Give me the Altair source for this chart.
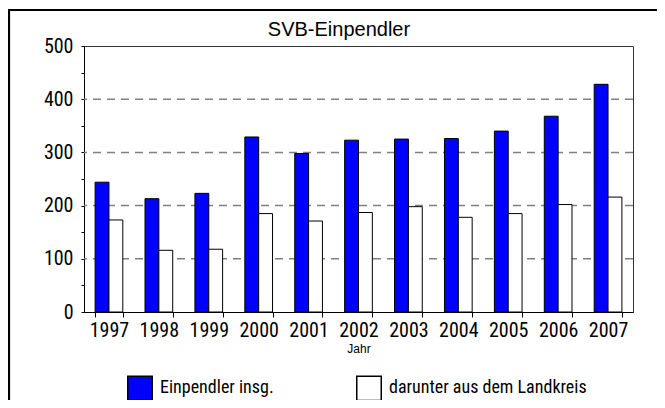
import altair as alt
import pandas as pd

title_text = ["SVB-Einpendler"]
years = ["1997", "1998", "1999", "2000", "2001", "2002", "2003", "2004", "2005", "2006", "2007"]
insg = [244, 213, 223, 329, 298, 323, 325, 326, 340, 368, 428]
landkreis = [173, 116, 118, 185, 171, 187, 198, 178, 185, 202, 216]
series_names = ["Einpendler insg.", "darunter aus dem Landkreis"]
grid_values = [100, 200, 300, 400]
y_ticks = [0, 50, 100, 150, 200, 250, 300, 350, 400, 450, 500]

rows = []
for y, a, b in zip(years, insg, landkreis):
    rows.append({"Jahr": y, "series": series_names[0], "value": a})
    rows.append({"Jahr": y, "series": series_names[1], "value": b})
df = pd.DataFrame(rows)

NARROW = "Roboto Condensed"
SANS = "Liberation Sans"

yscale = alt.Scale(domain=[0, 500], nice=False)
yaxis = alt.Axis(title=None, values=y_ticks,
                 labelExpr="datum.value % 100 == 0 ? datum.label : ''",
                 labelFont=NARROW, labelFontSize=20, labelColor="black",
                 labelPadding=8, tickSize=3, tickColor="black",
                 domainColor="black", grid=False, labelOverlap=False)

grid = alt.Chart(pd.DataFrame({"value": grid_values})).mark_rule(
    color="#808080", strokeWidth=1.5, strokeDash=[8, 6]
).encode(y=alt.Y("value:Q", scale=yscale, axis=yaxis))

bars = alt.Chart(df).mark_bar(stroke="black", strokeWidth=1, opacity=1).encode(
    x=alt.X("Jahr:N", sort=years,
            scale=alt.Scale(paddingInner=0.445, paddingOuter=0.2225),
            axis=alt.Axis(title="Jahr", labelAngle=0, labelFont=NARROW, labelFontSize=20,
                          labelColor="black", labelPadding=3, tickBand="extent",
                          tickSize=5, tickColor="black", domainColor="black",
                          titleFont=SANS, titleFontSize=12, titleFontWeight="normal",
                          titleColor="black", titlePadding=3)),
    xOffset=alt.XOffset("series:N", sort=series_names,
                        scale=alt.Scale(paddingInner=0, paddingOuter=0)),
    y=alt.Y("value:Q", scale=yscale, axis=yaxis),
    color=alt.Color("series:N", sort=series_names,
                    scale=alt.Scale(domain=series_names, range=["#0000FF", "#FFFFFF"]),
                    legend=alt.Legend(title=None, orient="none", legendX=43, legendY=329,
                                      direction="horizontal", columnPadding=79,
                                      symbolType="square", symbolSize=600,
                                      symbolStrokeColor="black", symbolStrokeWidth=1.5,
                                      labelFont=NARROW, labelFontSize=18, labelLimit=0,
                                      labelColor="black", labelOffset=7)),
)

title = alt.Chart(pd.DataFrame({"t": title_text})).mark_text(
    font=SANS, fontSize=20, color="black", align="center", baseline="alphabetic"
).encode(x=alt.value(255), y=alt.value(-10), text="t:N")

frame = alt.Chart(pd.DataFrame({"f": [0]})).mark_rect(
    fill=None, stroke="black", strokeWidth=2.2
).encode(x=alt.value(-75), y=alt.value(-36), x2=alt.value(700), y2=alt.value(500))

chart = alt.layer(frame, grid, bars, title).properties(
    width=549, height=266,
    autosize=alt.AutoSizeParams(type="none"),
    padding={"left": 76, "top": 38, "right": 24, "bottom": 88},
).configure_view(stroke="#333333", strokeWidth=1)

chart.save("out.html", embed_options={"renderer": "svg", "actions": False})
